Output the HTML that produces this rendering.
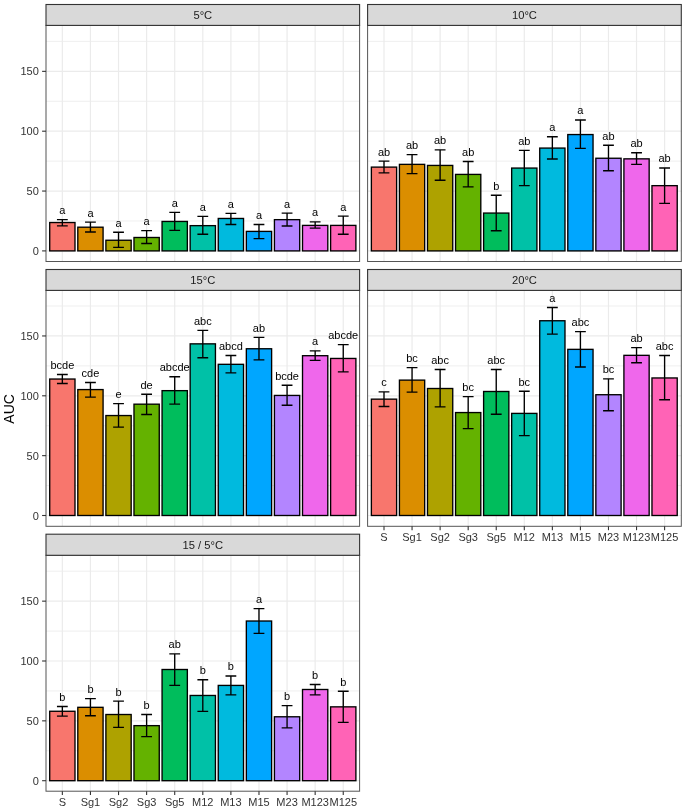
<!DOCTYPE html>
<html><head><meta charset="utf-8"><title>AUC bar chart</title>
<style>
html,body{margin:0;padding:0;background:#fff;}
body{width:685px;height:811px;overflow:hidden;}
svg{display:block;font-family:'Liberation Sans',sans-serif;will-change:transform;}
</style></head>
<body>
<svg width="685" height="811" viewBox="0 0 685 811" style="font-family:'Liberation Sans',sans-serif">
<rect width="685" height="811" fill="#fff"/>
<rect x="46" y="25.4" width="313.6" height="236.1" fill="#fff"/>
<line x1="46" x2="359.6" y1="220.97" y2="220.97" stroke="#EBEBEB" stroke-width="0.8"/>
<line x1="46" x2="359.6" y1="161.12" y2="161.12" stroke="#EBEBEB" stroke-width="0.8"/>
<line x1="46" x2="359.6" y1="101.28" y2="101.28" stroke="#EBEBEB" stroke-width="0.8"/>
<line x1="46" x2="359.6" y1="41.42" y2="41.42" stroke="#EBEBEB" stroke-width="0.8"/>
<line x1="46" x2="359.6" y1="250.9" y2="250.9" stroke="#EBEBEB" stroke-width="1.2"/>
<line x1="46" x2="359.6" y1="191.05" y2="191.05" stroke="#EBEBEB" stroke-width="1.2"/>
<line x1="46" x2="359.6" y1="131.2" y2="131.2" stroke="#EBEBEB" stroke-width="1.2"/>
<line x1="46" x2="359.6" y1="71.35" y2="71.35" stroke="#EBEBEB" stroke-width="1.2"/>
<line x1="62.35" x2="62.35" y1="25.4" y2="261.5" stroke="#EBEBEB" stroke-width="1.2"/>
<line x1="90.44" x2="90.44" y1="25.4" y2="261.5" stroke="#EBEBEB" stroke-width="1.2"/>
<line x1="118.53" x2="118.53" y1="25.4" y2="261.5" stroke="#EBEBEB" stroke-width="1.2"/>
<line x1="146.62" x2="146.62" y1="25.4" y2="261.5" stroke="#EBEBEB" stroke-width="1.2"/>
<line x1="174.71" x2="174.71" y1="25.4" y2="261.5" stroke="#EBEBEB" stroke-width="1.2"/>
<line x1="202.8" x2="202.8" y1="25.4" y2="261.5" stroke="#EBEBEB" stroke-width="1.2"/>
<line x1="230.89" x2="230.89" y1="25.4" y2="261.5" stroke="#EBEBEB" stroke-width="1.2"/>
<line x1="258.98" x2="258.98" y1="25.4" y2="261.5" stroke="#EBEBEB" stroke-width="1.2"/>
<line x1="287.07" x2="287.07" y1="25.4" y2="261.5" stroke="#EBEBEB" stroke-width="1.2"/>
<line x1="315.16" x2="315.16" y1="25.4" y2="261.5" stroke="#EBEBEB" stroke-width="1.2"/>
<line x1="343.25" x2="343.25" y1="25.4" y2="261.5" stroke="#EBEBEB" stroke-width="1.2"/>
<rect x="49.71" y="222.53" width="25.28" height="28.37" fill="#F8766D" stroke="#000" stroke-width="1.35"/>
<rect x="77.8" y="227.2" width="25.28" height="23.7" fill="#DB8E00" stroke="#000" stroke-width="1.35"/>
<rect x="105.89" y="240.25" width="25.28" height="10.65" fill="#AEA200" stroke="#000" stroke-width="1.35"/>
<rect x="133.98" y="237.49" width="25.28" height="13.41" fill="#64B200" stroke="#000" stroke-width="1.35"/>
<rect x="162.07" y="221.45" width="25.28" height="29.45" fill="#00BD5C" stroke="#000" stroke-width="1.35"/>
<rect x="190.16" y="225.64" width="25.28" height="25.26" fill="#00C1A7" stroke="#000" stroke-width="1.35"/>
<rect x="218.25" y="218.46" width="25.28" height="32.44" fill="#00BADE" stroke="#000" stroke-width="1.35"/>
<rect x="246.34" y="231.39" width="25.28" height="19.51" fill="#00A6FF" stroke="#000" stroke-width="1.35"/>
<rect x="274.43" y="219.66" width="25.28" height="31.24" fill="#B385FF" stroke="#000" stroke-width="1.35"/>
<rect x="302.52" y="225.4" width="25.28" height="25.5" fill="#EF67EB" stroke="#000" stroke-width="1.35"/>
<rect x="330.61" y="225.4" width="25.28" height="25.5" fill="#FF63B6" stroke="#000" stroke-width="1.35"/>
<path d="M56.95 219.66H67.75M62.35 219.66V225.88M56.95 225.88H67.75" stroke="#000" stroke-width="1.35" fill="none"/>
<path d="M85.04 222.17H95.84M90.44 222.17V231.99M85.04 231.99H95.84" stroke="#000" stroke-width="1.35" fill="none"/>
<path d="M113.13 232.23H123.93M118.53 232.23V247.43M113.13 247.43H123.93" stroke="#000" stroke-width="1.35" fill="none"/>
<path d="M141.22 230.55H152.02M146.62 230.55V243.48M141.22 243.48H152.02" stroke="#000" stroke-width="1.35" fill="none"/>
<path d="M169.31 212.36H180.11M174.71 212.36V230.43M169.31 230.43H180.11" stroke="#000" stroke-width="1.35" fill="none"/>
<path d="M197.4 216.43H208.2M202.8 216.43V234.26M197.4 234.26H208.2" stroke="#000" stroke-width="1.35" fill="none"/>
<path d="M225.49 213.43H236.29M230.89 213.43V224.45M225.49 224.45H236.29" stroke="#000" stroke-width="1.35" fill="none"/>
<path d="M253.58 224.45H264.38M258.98 224.45V238.69M253.58 238.69H264.38" stroke="#000" stroke-width="1.35" fill="none"/>
<path d="M281.67 213.07H292.47M287.07 213.07V226M281.67 226H292.47" stroke="#000" stroke-width="1.35" fill="none"/>
<path d="M309.76 221.81H320.56M315.16 221.81V228.16M309.76 228.16H320.56" stroke="#000" stroke-width="1.35" fill="none"/>
<path d="M337.85 216.19H348.65M343.25 216.19V234.26M337.85 234.26H348.65" stroke="#000" stroke-width="1.35" fill="none"/>
<text x="62.35" y="214.16" text-anchor="middle" font-size="11" fill="#000">a</text>
<text x="90.44" y="216.67" text-anchor="middle" font-size="11" fill="#000">a</text>
<text x="118.53" y="226.73" text-anchor="middle" font-size="11" fill="#000">a</text>
<text x="146.62" y="225.05" text-anchor="middle" font-size="11" fill="#000">a</text>
<text x="174.71" y="206.86" text-anchor="middle" font-size="11" fill="#000">a</text>
<text x="202.8" y="210.93" text-anchor="middle" font-size="11" fill="#000">a</text>
<text x="230.89" y="207.93" text-anchor="middle" font-size="11" fill="#000">a</text>
<text x="258.98" y="218.95" text-anchor="middle" font-size="11" fill="#000">a</text>
<text x="287.07" y="207.57" text-anchor="middle" font-size="11" fill="#000">a</text>
<text x="315.16" y="216.31" text-anchor="middle" font-size="11" fill="#000">a</text>
<text x="343.25" y="210.69" text-anchor="middle" font-size="11" fill="#000">a</text>
<rect x="46" y="25.4" width="313.6" height="236.1" fill="none" stroke="#555" stroke-width="1.0"/>
<rect x="46" y="4.5" width="313.6" height="20.9" fill="#D9D9D9" stroke="#333333" stroke-width="1.1"/>
<text x="202.8" y="19.1" text-anchor="middle" font-size="11.2" fill="#1A1A1A">5°C</text>
<line x1="42.1" x2="46" y1="250.9" y2="250.9" stroke="#333333" stroke-width="1.1"/>
<text x="38.8" y="254.9" text-anchor="end" font-size="11" fill="#333333">0</text>
<line x1="42.1" x2="46" y1="191.05" y2="191.05" stroke="#333333" stroke-width="1.1"/>
<text x="38.8" y="195.05" text-anchor="end" font-size="11" fill="#333333">50</text>
<line x1="42.1" x2="46" y1="131.2" y2="131.2" stroke="#333333" stroke-width="1.1"/>
<text x="38.8" y="135.2" text-anchor="end" font-size="11" fill="#333333">100</text>
<line x1="42.1" x2="46" y1="71.35" y2="71.35" stroke="#333333" stroke-width="1.1"/>
<text x="38.8" y="75.35" text-anchor="end" font-size="11" fill="#333333">150</text>
<rect x="367.6" y="25.4" width="313.7" height="236.1" fill="#fff"/>
<line x1="367.6" x2="681.3" y1="220.97" y2="220.97" stroke="#EBEBEB" stroke-width="0.8"/>
<line x1="367.6" x2="681.3" y1="161.12" y2="161.12" stroke="#EBEBEB" stroke-width="0.8"/>
<line x1="367.6" x2="681.3" y1="101.28" y2="101.28" stroke="#EBEBEB" stroke-width="0.8"/>
<line x1="367.6" x2="681.3" y1="41.42" y2="41.42" stroke="#EBEBEB" stroke-width="0.8"/>
<line x1="367.6" x2="681.3" y1="250.9" y2="250.9" stroke="#EBEBEB" stroke-width="1.2"/>
<line x1="367.6" x2="681.3" y1="191.05" y2="191.05" stroke="#EBEBEB" stroke-width="1.2"/>
<line x1="367.6" x2="681.3" y1="131.2" y2="131.2" stroke="#EBEBEB" stroke-width="1.2"/>
<line x1="367.6" x2="681.3" y1="71.35" y2="71.35" stroke="#EBEBEB" stroke-width="1.2"/>
<line x1="384" x2="384" y1="25.4" y2="261.5" stroke="#EBEBEB" stroke-width="1.2"/>
<line x1="412.06" x2="412.06" y1="25.4" y2="261.5" stroke="#EBEBEB" stroke-width="1.2"/>
<line x1="440.12" x2="440.12" y1="25.4" y2="261.5" stroke="#EBEBEB" stroke-width="1.2"/>
<line x1="468.18" x2="468.18" y1="25.4" y2="261.5" stroke="#EBEBEB" stroke-width="1.2"/>
<line x1="496.24" x2="496.24" y1="25.4" y2="261.5" stroke="#EBEBEB" stroke-width="1.2"/>
<line x1="524.3" x2="524.3" y1="25.4" y2="261.5" stroke="#EBEBEB" stroke-width="1.2"/>
<line x1="552.36" x2="552.36" y1="25.4" y2="261.5" stroke="#EBEBEB" stroke-width="1.2"/>
<line x1="580.42" x2="580.42" y1="25.4" y2="261.5" stroke="#EBEBEB" stroke-width="1.2"/>
<line x1="608.48" x2="608.48" y1="25.4" y2="261.5" stroke="#EBEBEB" stroke-width="1.2"/>
<line x1="636.54" x2="636.54" y1="25.4" y2="261.5" stroke="#EBEBEB" stroke-width="1.2"/>
<line x1="664.6" x2="664.6" y1="25.4" y2="261.5" stroke="#EBEBEB" stroke-width="1.2"/>
<rect x="371.37" y="167.11" width="25.25" height="83.79" fill="#F8766D" stroke="#000" stroke-width="1.35"/>
<rect x="399.43" y="164.36" width="25.25" height="86.54" fill="#DB8E00" stroke="#000" stroke-width="1.35"/>
<rect x="427.49" y="165.43" width="25.25" height="85.47" fill="#AEA200" stroke="#000" stroke-width="1.35"/>
<rect x="455.55" y="174.41" width="25.25" height="76.49" fill="#64B200" stroke="#000" stroke-width="1.35"/>
<rect x="483.61" y="213.07" width="25.25" height="37.83" fill="#00BD5C" stroke="#000" stroke-width="1.35"/>
<rect x="511.67" y="168.07" width="25.25" height="82.83" fill="#00C1A7" stroke="#000" stroke-width="1.35"/>
<rect x="539.73" y="148.08" width="25.25" height="102.82" fill="#00BADE" stroke="#000" stroke-width="1.35"/>
<rect x="567.79" y="134.55" width="25.25" height="116.35" fill="#00A6FF" stroke="#000" stroke-width="1.35"/>
<rect x="595.85" y="158.25" width="25.25" height="92.65" fill="#B385FF" stroke="#000" stroke-width="1.35"/>
<rect x="623.91" y="158.85" width="25.25" height="92.05" fill="#EF67EB" stroke="#000" stroke-width="1.35"/>
<rect x="651.97" y="185.66" width="25.25" height="65.24" fill="#FF63B6" stroke="#000" stroke-width="1.35"/>
<path d="M378.6 161.12H389.4M384 161.12V172.86M378.6 172.86H389.4" stroke="#000" stroke-width="1.35" fill="none"/>
<path d="M406.66 154.66H417.46M412.06 154.66V173.69M406.66 173.69H417.46" stroke="#000" stroke-width="1.35" fill="none"/>
<path d="M434.72 149.87H445.52M440.12 149.87V180.28M434.72 180.28H445.52" stroke="#000" stroke-width="1.35" fill="none"/>
<path d="M462.78 161.48H473.58M468.18 161.48V186.86M462.78 186.86H473.58" stroke="#000" stroke-width="1.35" fill="none"/>
<path d="M490.84 195.24H501.64M496.24 195.24V230.79M490.84 230.79H501.64" stroke="#000" stroke-width="1.35" fill="none"/>
<path d="M518.9 150.35H529.7M524.3 150.35V185.66M518.9 185.66H529.7" stroke="#000" stroke-width="1.35" fill="none"/>
<path d="M546.96 136.71H557.76M552.36 136.71V158.97M546.96 158.97H557.76" stroke="#000" stroke-width="1.35" fill="none"/>
<path d="M575.02 119.95H585.82M580.42 119.95V148.44M575.02 148.44H585.82" stroke="#000" stroke-width="1.35" fill="none"/>
<path d="M603.08 145.2H613.88M608.48 145.2V170.7M603.08 170.7H613.88" stroke="#000" stroke-width="1.35" fill="none"/>
<path d="M631.14 152.75H641.94M636.54 152.75V164.36M631.14 164.36H641.94" stroke="#000" stroke-width="1.35" fill="none"/>
<path d="M659.2 167.95H670M664.6 167.95V203.38M659.2 203.38H670" stroke="#000" stroke-width="1.35" fill="none"/>
<text x="384" y="155.62" text-anchor="middle" font-size="11" fill="#000">ab</text>
<text x="412.06" y="149.16" text-anchor="middle" font-size="11" fill="#000">ab</text>
<text x="440.12" y="144.37" text-anchor="middle" font-size="11" fill="#000">ab</text>
<text x="468.18" y="155.98" text-anchor="middle" font-size="11" fill="#000">ab</text>
<text x="496.24" y="189.74" text-anchor="middle" font-size="11" fill="#000">b</text>
<text x="524.3" y="144.85" text-anchor="middle" font-size="11" fill="#000">ab</text>
<text x="552.36" y="131.21" text-anchor="middle" font-size="11" fill="#000">a</text>
<text x="580.42" y="114.45" text-anchor="middle" font-size="11" fill="#000">a</text>
<text x="608.48" y="139.7" text-anchor="middle" font-size="11" fill="#000">ab</text>
<text x="636.54" y="147.25" text-anchor="middle" font-size="11" fill="#000">ab</text>
<text x="664.6" y="162.45" text-anchor="middle" font-size="11" fill="#000">ab</text>
<rect x="367.6" y="25.4" width="313.7" height="236.1" fill="none" stroke="#555" stroke-width="1.0"/>
<rect x="367.6" y="4.5" width="313.7" height="20.9" fill="#D9D9D9" stroke="#333333" stroke-width="1.1"/>
<text x="524.45" y="19.1" text-anchor="middle" font-size="11.2" fill="#1A1A1A">10°C</text>
<rect x="46" y="290.4" width="313.6" height="235.9" fill="#fff"/>
<line x1="46" x2="359.6" y1="485.57" y2="485.57" stroke="#EBEBEB" stroke-width="0.8"/>
<line x1="46" x2="359.6" y1="425.73" y2="425.73" stroke="#EBEBEB" stroke-width="0.8"/>
<line x1="46" x2="359.6" y1="365.88" y2="365.88" stroke="#EBEBEB" stroke-width="0.8"/>
<line x1="46" x2="359.6" y1="306.02" y2="306.02" stroke="#EBEBEB" stroke-width="0.8"/>
<line x1="46" x2="359.6" y1="515.5" y2="515.5" stroke="#EBEBEB" stroke-width="1.2"/>
<line x1="46" x2="359.6" y1="455.65" y2="455.65" stroke="#EBEBEB" stroke-width="1.2"/>
<line x1="46" x2="359.6" y1="395.8" y2="395.8" stroke="#EBEBEB" stroke-width="1.2"/>
<line x1="46" x2="359.6" y1="335.95" y2="335.95" stroke="#EBEBEB" stroke-width="1.2"/>
<line x1="62.35" x2="62.35" y1="290.4" y2="526.3" stroke="#EBEBEB" stroke-width="1.2"/>
<line x1="90.44" x2="90.44" y1="290.4" y2="526.3" stroke="#EBEBEB" stroke-width="1.2"/>
<line x1="118.53" x2="118.53" y1="290.4" y2="526.3" stroke="#EBEBEB" stroke-width="1.2"/>
<line x1="146.62" x2="146.62" y1="290.4" y2="526.3" stroke="#EBEBEB" stroke-width="1.2"/>
<line x1="174.71" x2="174.71" y1="290.4" y2="526.3" stroke="#EBEBEB" stroke-width="1.2"/>
<line x1="202.8" x2="202.8" y1="290.4" y2="526.3" stroke="#EBEBEB" stroke-width="1.2"/>
<line x1="230.89" x2="230.89" y1="290.4" y2="526.3" stroke="#EBEBEB" stroke-width="1.2"/>
<line x1="258.98" x2="258.98" y1="290.4" y2="526.3" stroke="#EBEBEB" stroke-width="1.2"/>
<line x1="287.07" x2="287.07" y1="290.4" y2="526.3" stroke="#EBEBEB" stroke-width="1.2"/>
<line x1="315.16" x2="315.16" y1="290.4" y2="526.3" stroke="#EBEBEB" stroke-width="1.2"/>
<line x1="343.25" x2="343.25" y1="290.4" y2="526.3" stroke="#EBEBEB" stroke-width="1.2"/>
<rect x="49.71" y="379.04" width="25.28" height="136.46" fill="#F8766D" stroke="#000" stroke-width="1.35"/>
<rect x="77.8" y="389.58" width="25.28" height="125.92" fill="#DB8E00" stroke="#000" stroke-width="1.35"/>
<rect x="105.89" y="415.55" width="25.28" height="99.95" fill="#AEA200" stroke="#000" stroke-width="1.35"/>
<rect x="133.98" y="404.18" width="25.28" height="111.32" fill="#64B200" stroke="#000" stroke-width="1.35"/>
<rect x="162.07" y="390.65" width="25.28" height="124.85" fill="#00BD5C" stroke="#000" stroke-width="1.35"/>
<rect x="190.16" y="343.85" width="25.28" height="171.65" fill="#00C1A7" stroke="#000" stroke-width="1.35"/>
<rect x="218.25" y="364.32" width="25.28" height="151.18" fill="#00BADE" stroke="#000" stroke-width="1.35"/>
<rect x="246.34" y="348.76" width="25.28" height="166.74" fill="#00A6FF" stroke="#000" stroke-width="1.35"/>
<rect x="274.43" y="395.44" width="25.28" height="120.06" fill="#B385FF" stroke="#000" stroke-width="1.35"/>
<rect x="302.52" y="355.7" width="25.28" height="159.8" fill="#EF67EB" stroke="#000" stroke-width="1.35"/>
<rect x="330.61" y="358.45" width="25.28" height="157.05" fill="#FF63B6" stroke="#000" stroke-width="1.35"/>
<path d="M56.95 374.49H67.75M62.35 374.49V383.47M56.95 383.47H67.75" stroke="#000" stroke-width="1.35" fill="none"/>
<path d="M85.04 382.51H95.84M90.44 382.51V397.12M85.04 397.12H95.84" stroke="#000" stroke-width="1.35" fill="none"/>
<path d="M113.13 403.58H123.93M118.53 403.58V427.16M113.13 427.16H123.93" stroke="#000" stroke-width="1.35" fill="none"/>
<path d="M141.22 394.24H152.02M146.62 394.24V414.47M141.22 414.47H152.02" stroke="#000" stroke-width="1.35" fill="none"/>
<path d="M169.31 376.77H180.11M174.71 376.77V404.18M169.31 404.18H180.11" stroke="#000" stroke-width="1.35" fill="none"/>
<path d="M197.4 330.44H208.2M202.8 330.44V357.74M197.4 357.74H208.2" stroke="#000" stroke-width="1.35" fill="none"/>
<path d="M225.49 355.46H236.29M230.89 355.46V372.94M225.49 372.94H236.29" stroke="#000" stroke-width="1.35" fill="none"/>
<path d="M253.58 337.39H264.38M258.98 337.39V359.89M253.58 359.89H264.38" stroke="#000" stroke-width="1.35" fill="none"/>
<path d="M281.67 385.27H292.47M287.07 385.27V405.26M281.67 405.26H292.47" stroke="#000" stroke-width="1.35" fill="none"/>
<path d="M309.76 350.91H320.56M315.16 350.91V360.37M309.76 360.37H320.56" stroke="#000" stroke-width="1.35" fill="none"/>
<path d="M337.85 344.57H348.65M343.25 344.57V371.86M337.85 371.86H348.65" stroke="#000" stroke-width="1.35" fill="none"/>
<text x="62.35" y="368.99" text-anchor="middle" font-size="11" fill="#000">bcde</text>
<text x="90.44" y="377.01" text-anchor="middle" font-size="11" fill="#000">cde</text>
<text x="118.53" y="398.08" text-anchor="middle" font-size="11" fill="#000">e</text>
<text x="146.62" y="388.74" text-anchor="middle" font-size="11" fill="#000">de</text>
<text x="174.71" y="371.27" text-anchor="middle" font-size="11" fill="#000">abcde</text>
<text x="202.8" y="324.94" text-anchor="middle" font-size="11" fill="#000">abc</text>
<text x="230.89" y="349.96" text-anchor="middle" font-size="11" fill="#000">abcd</text>
<text x="258.98" y="331.89" text-anchor="middle" font-size="11" fill="#000">ab</text>
<text x="287.07" y="379.77" text-anchor="middle" font-size="11" fill="#000">bcde</text>
<text x="315.16" y="345.41" text-anchor="middle" font-size="11" fill="#000">a</text>
<text x="343.25" y="339.07" text-anchor="middle" font-size="11" fill="#000">abcde</text>
<rect x="46" y="290.4" width="313.6" height="235.9" fill="none" stroke="#555" stroke-width="1.0"/>
<rect x="46" y="269.5" width="313.6" height="20.9" fill="#D9D9D9" stroke="#333333" stroke-width="1.1"/>
<text x="202.8" y="284.1" text-anchor="middle" font-size="11.2" fill="#1A1A1A">15°C</text>
<line x1="42.1" x2="46" y1="515.5" y2="515.5" stroke="#333333" stroke-width="1.1"/>
<text x="38.8" y="519.5" text-anchor="end" font-size="11" fill="#333333">0</text>
<line x1="42.1" x2="46" y1="455.65" y2="455.65" stroke="#333333" stroke-width="1.1"/>
<text x="38.8" y="459.65" text-anchor="end" font-size="11" fill="#333333">50</text>
<line x1="42.1" x2="46" y1="395.8" y2="395.8" stroke="#333333" stroke-width="1.1"/>
<text x="38.8" y="399.8" text-anchor="end" font-size="11" fill="#333333">100</text>
<line x1="42.1" x2="46" y1="335.95" y2="335.95" stroke="#333333" stroke-width="1.1"/>
<text x="38.8" y="339.95" text-anchor="end" font-size="11" fill="#333333">150</text>
<rect x="367.6" y="290.4" width="313.7" height="235.9" fill="#fff"/>
<line x1="367.6" x2="681.3" y1="485.57" y2="485.57" stroke="#EBEBEB" stroke-width="0.8"/>
<line x1="367.6" x2="681.3" y1="425.73" y2="425.73" stroke="#EBEBEB" stroke-width="0.8"/>
<line x1="367.6" x2="681.3" y1="365.88" y2="365.88" stroke="#EBEBEB" stroke-width="0.8"/>
<line x1="367.6" x2="681.3" y1="306.02" y2="306.02" stroke="#EBEBEB" stroke-width="0.8"/>
<line x1="367.6" x2="681.3" y1="515.5" y2="515.5" stroke="#EBEBEB" stroke-width="1.2"/>
<line x1="367.6" x2="681.3" y1="455.65" y2="455.65" stroke="#EBEBEB" stroke-width="1.2"/>
<line x1="367.6" x2="681.3" y1="395.8" y2="395.8" stroke="#EBEBEB" stroke-width="1.2"/>
<line x1="367.6" x2="681.3" y1="335.95" y2="335.95" stroke="#EBEBEB" stroke-width="1.2"/>
<line x1="384" x2="384" y1="290.4" y2="526.3" stroke="#EBEBEB" stroke-width="1.2"/>
<line x1="412.06" x2="412.06" y1="290.4" y2="526.3" stroke="#EBEBEB" stroke-width="1.2"/>
<line x1="440.12" x2="440.12" y1="290.4" y2="526.3" stroke="#EBEBEB" stroke-width="1.2"/>
<line x1="468.18" x2="468.18" y1="290.4" y2="526.3" stroke="#EBEBEB" stroke-width="1.2"/>
<line x1="496.24" x2="496.24" y1="290.4" y2="526.3" stroke="#EBEBEB" stroke-width="1.2"/>
<line x1="524.3" x2="524.3" y1="290.4" y2="526.3" stroke="#EBEBEB" stroke-width="1.2"/>
<line x1="552.36" x2="552.36" y1="290.4" y2="526.3" stroke="#EBEBEB" stroke-width="1.2"/>
<line x1="580.42" x2="580.42" y1="290.4" y2="526.3" stroke="#EBEBEB" stroke-width="1.2"/>
<line x1="608.48" x2="608.48" y1="290.4" y2="526.3" stroke="#EBEBEB" stroke-width="1.2"/>
<line x1="636.54" x2="636.54" y1="290.4" y2="526.3" stroke="#EBEBEB" stroke-width="1.2"/>
<line x1="664.6" x2="664.6" y1="290.4" y2="526.3" stroke="#EBEBEB" stroke-width="1.2"/>
<rect x="371.37" y="399.15" width="25.25" height="116.35" fill="#F8766D" stroke="#000" stroke-width="1.35"/>
<rect x="399.43" y="380.12" width="25.25" height="135.38" fill="#DB8E00" stroke="#000" stroke-width="1.35"/>
<rect x="427.49" y="388.5" width="25.25" height="127" fill="#AEA200" stroke="#000" stroke-width="1.35"/>
<rect x="455.55" y="412.56" width="25.25" height="102.94" fill="#64B200" stroke="#000" stroke-width="1.35"/>
<rect x="483.61" y="391.49" width="25.25" height="124.01" fill="#00BD5C" stroke="#000" stroke-width="1.35"/>
<rect x="511.67" y="413.4" width="25.25" height="102.1" fill="#00C1A7" stroke="#000" stroke-width="1.35"/>
<rect x="539.73" y="320.75" width="25.25" height="194.75" fill="#00BADE" stroke="#000" stroke-width="1.35"/>
<rect x="567.79" y="349.36" width="25.25" height="166.14" fill="#00A6FF" stroke="#000" stroke-width="1.35"/>
<rect x="595.85" y="394.72" width="25.25" height="120.78" fill="#B385FF" stroke="#000" stroke-width="1.35"/>
<rect x="623.91" y="355.34" width="25.25" height="160.16" fill="#EF67EB" stroke="#000" stroke-width="1.35"/>
<rect x="651.97" y="377.96" width="25.25" height="137.54" fill="#FF63B6" stroke="#000" stroke-width="1.35"/>
<path d="M378.6 391.85H389.4M384 391.85V406.45M378.6 406.45H389.4" stroke="#000" stroke-width="1.35" fill="none"/>
<path d="M406.66 367.67H417.46M412.06 367.67V392.09M406.66 392.09H417.46" stroke="#000" stroke-width="1.35" fill="none"/>
<path d="M434.72 369.47H445.52M440.12 369.47V406.93M434.72 406.93H445.52" stroke="#000" stroke-width="1.35" fill="none"/>
<path d="M462.78 396.64H473.58M468.18 396.64V428.6M462.78 428.6H473.58" stroke="#000" stroke-width="1.35" fill="none"/>
<path d="M490.84 369.47H501.64M496.24 369.47V414.23M490.84 414.23H501.64" stroke="#000" stroke-width="1.35" fill="none"/>
<path d="M518.9 391.25H529.7M524.3 391.25V435.66M518.9 435.66H529.7" stroke="#000" stroke-width="1.35" fill="none"/>
<path d="M546.96 307.46H557.76M552.36 307.46V334.15M546.96 334.15H557.76" stroke="#000" stroke-width="1.35" fill="none"/>
<path d="M575.02 331.64H585.82M580.42 331.64V366.95M575.02 366.95H585.82" stroke="#000" stroke-width="1.35" fill="none"/>
<path d="M603.08 378.8H613.88M608.48 378.8V410.76M603.08 410.76H613.88" stroke="#000" stroke-width="1.35" fill="none"/>
<path d="M631.14 347.68H641.94M636.54 347.68V362.76M631.14 362.76H641.94" stroke="#000" stroke-width="1.35" fill="none"/>
<path d="M659.2 355.46H670M664.6 355.46V399.75M659.2 399.75H670" stroke="#000" stroke-width="1.35" fill="none"/>
<text x="384" y="386.35" text-anchor="middle" font-size="11" fill="#000">c</text>
<text x="412.06" y="362.17" text-anchor="middle" font-size="11" fill="#000">bc</text>
<text x="440.12" y="363.97" text-anchor="middle" font-size="11" fill="#000">abc</text>
<text x="468.18" y="391.14" text-anchor="middle" font-size="11" fill="#000">bc</text>
<text x="496.24" y="363.97" text-anchor="middle" font-size="11" fill="#000">abc</text>
<text x="524.3" y="385.75" text-anchor="middle" font-size="11" fill="#000">bc</text>
<text x="552.36" y="301.96" text-anchor="middle" font-size="11" fill="#000">a</text>
<text x="580.42" y="326.14" text-anchor="middle" font-size="11" fill="#000">abc</text>
<text x="608.48" y="373.3" text-anchor="middle" font-size="11" fill="#000">bc</text>
<text x="636.54" y="342.18" text-anchor="middle" font-size="11" fill="#000">ab</text>
<text x="664.6" y="349.96" text-anchor="middle" font-size="11" fill="#000">abc</text>
<rect x="367.6" y="290.4" width="313.7" height="235.9" fill="none" stroke="#555" stroke-width="1.0"/>
<rect x="367.6" y="269.5" width="313.7" height="20.9" fill="#D9D9D9" stroke="#333333" stroke-width="1.1"/>
<text x="524.45" y="284.1" text-anchor="middle" font-size="11.2" fill="#1A1A1A">20°C</text>
<line x1="384" x2="384" y1="526.3" y2="530.2" stroke="#333333" stroke-width="1.1"/>
<text x="384" y="540.7" text-anchor="middle" font-size="11" fill="#333333">S</text>
<line x1="412.06" x2="412.06" y1="526.3" y2="530.2" stroke="#333333" stroke-width="1.1"/>
<text x="412.06" y="540.7" text-anchor="middle" font-size="11" fill="#333333">Sg1</text>
<line x1="440.12" x2="440.12" y1="526.3" y2="530.2" stroke="#333333" stroke-width="1.1"/>
<text x="440.12" y="540.7" text-anchor="middle" font-size="11" fill="#333333">Sg2</text>
<line x1="468.18" x2="468.18" y1="526.3" y2="530.2" stroke="#333333" stroke-width="1.1"/>
<text x="468.18" y="540.7" text-anchor="middle" font-size="11" fill="#333333">Sg3</text>
<line x1="496.24" x2="496.24" y1="526.3" y2="530.2" stroke="#333333" stroke-width="1.1"/>
<text x="496.24" y="540.7" text-anchor="middle" font-size="11" fill="#333333">Sg5</text>
<line x1="524.3" x2="524.3" y1="526.3" y2="530.2" stroke="#333333" stroke-width="1.1"/>
<text x="524.3" y="540.7" text-anchor="middle" font-size="11" fill="#333333">M12</text>
<line x1="552.36" x2="552.36" y1="526.3" y2="530.2" stroke="#333333" stroke-width="1.1"/>
<text x="552.36" y="540.7" text-anchor="middle" font-size="11" fill="#333333">M13</text>
<line x1="580.42" x2="580.42" y1="526.3" y2="530.2" stroke="#333333" stroke-width="1.1"/>
<text x="580.42" y="540.7" text-anchor="middle" font-size="11" fill="#333333">M15</text>
<line x1="608.48" x2="608.48" y1="526.3" y2="530.2" stroke="#333333" stroke-width="1.1"/>
<text x="608.48" y="540.7" text-anchor="middle" font-size="11" fill="#333333">M23</text>
<line x1="636.54" x2="636.54" y1="526.3" y2="530.2" stroke="#333333" stroke-width="1.1"/>
<text x="636.54" y="540.7" text-anchor="middle" font-size="11" fill="#333333">M123</text>
<line x1="664.6" x2="664.6" y1="526.3" y2="530.2" stroke="#333333" stroke-width="1.1"/>
<text x="664.6" y="540.7" text-anchor="middle" font-size="11" fill="#333333">M125</text>
<rect x="46" y="555.3" width="313.6" height="235.9" fill="#fff"/>
<line x1="46" x2="359.6" y1="750.78" y2="750.78" stroke="#EBEBEB" stroke-width="0.8"/>
<line x1="46" x2="359.6" y1="690.93" y2="690.93" stroke="#EBEBEB" stroke-width="0.8"/>
<line x1="46" x2="359.6" y1="631.08" y2="631.08" stroke="#EBEBEB" stroke-width="0.8"/>
<line x1="46" x2="359.6" y1="571.23" y2="571.23" stroke="#EBEBEB" stroke-width="0.8"/>
<line x1="46" x2="359.6" y1="780.7" y2="780.7" stroke="#EBEBEB" stroke-width="1.2"/>
<line x1="46" x2="359.6" y1="720.85" y2="720.85" stroke="#EBEBEB" stroke-width="1.2"/>
<line x1="46" x2="359.6" y1="661" y2="661" stroke="#EBEBEB" stroke-width="1.2"/>
<line x1="46" x2="359.6" y1="601.15" y2="601.15" stroke="#EBEBEB" stroke-width="1.2"/>
<line x1="62.35" x2="62.35" y1="555.3" y2="791.2" stroke="#EBEBEB" stroke-width="1.2"/>
<line x1="90.44" x2="90.44" y1="555.3" y2="791.2" stroke="#EBEBEB" stroke-width="1.2"/>
<line x1="118.53" x2="118.53" y1="555.3" y2="791.2" stroke="#EBEBEB" stroke-width="1.2"/>
<line x1="146.62" x2="146.62" y1="555.3" y2="791.2" stroke="#EBEBEB" stroke-width="1.2"/>
<line x1="174.71" x2="174.71" y1="555.3" y2="791.2" stroke="#EBEBEB" stroke-width="1.2"/>
<line x1="202.8" x2="202.8" y1="555.3" y2="791.2" stroke="#EBEBEB" stroke-width="1.2"/>
<line x1="230.89" x2="230.89" y1="555.3" y2="791.2" stroke="#EBEBEB" stroke-width="1.2"/>
<line x1="258.98" x2="258.98" y1="555.3" y2="791.2" stroke="#EBEBEB" stroke-width="1.2"/>
<line x1="287.07" x2="287.07" y1="555.3" y2="791.2" stroke="#EBEBEB" stroke-width="1.2"/>
<line x1="315.16" x2="315.16" y1="555.3" y2="791.2" stroke="#EBEBEB" stroke-width="1.2"/>
<line x1="343.25" x2="343.25" y1="555.3" y2="791.2" stroke="#EBEBEB" stroke-width="1.2"/>
<rect x="49.71" y="711.27" width="25.28" height="69.43" fill="#F8766D" stroke="#000" stroke-width="1.35"/>
<rect x="77.8" y="707.32" width="25.28" height="73.38" fill="#DB8E00" stroke="#000" stroke-width="1.35"/>
<rect x="105.89" y="714.51" width="25.28" height="66.19" fill="#AEA200" stroke="#000" stroke-width="1.35"/>
<rect x="133.98" y="725.64" width="25.28" height="55.06" fill="#64B200" stroke="#000" stroke-width="1.35"/>
<rect x="162.07" y="669.5" width="25.28" height="111.2" fill="#00BD5C" stroke="#000" stroke-width="1.35"/>
<rect x="190.16" y="695.47" width="25.28" height="85.23" fill="#00C1A7" stroke="#000" stroke-width="1.35"/>
<rect x="218.25" y="685.42" width="25.28" height="95.28" fill="#00BADE" stroke="#000" stroke-width="1.35"/>
<rect x="246.34" y="621.02" width="25.28" height="159.68" fill="#00A6FF" stroke="#000" stroke-width="1.35"/>
<rect x="274.43" y="716.78" width="25.28" height="63.92" fill="#B385FF" stroke="#000" stroke-width="1.35"/>
<rect x="302.52" y="689.49" width="25.28" height="91.21" fill="#EF67EB" stroke="#000" stroke-width="1.35"/>
<rect x="330.61" y="706.85" width="25.28" height="73.85" fill="#FF63B6" stroke="#000" stroke-width="1.35"/>
<path d="M56.95 706.49H67.75M62.35 706.49V716.06M56.95 716.06H67.75" stroke="#000" stroke-width="1.35" fill="none"/>
<path d="M85.04 698.59H95.84M90.44 698.59V715.7M85.04 715.7H95.84" stroke="#000" stroke-width="1.35" fill="none"/>
<path d="M113.13 701.1H123.93M118.53 701.1V727.31M113.13 727.31H123.93" stroke="#000" stroke-width="1.35" fill="none"/>
<path d="M141.22 714.51H152.02M146.62 714.51V736.65M141.22 736.65H152.02" stroke="#000" stroke-width="1.35" fill="none"/>
<path d="M169.31 653.82H180.11M174.71 653.82V685.42M169.31 685.42H180.11" stroke="#000" stroke-width="1.35" fill="none"/>
<path d="M197.4 679.79H208.2M202.8 679.79V711.39M197.4 711.39H208.2" stroke="#000" stroke-width="1.35" fill="none"/>
<path d="M225.49 675.96H236.29M230.89 675.96V694.88M225.49 694.88H236.29" stroke="#000" stroke-width="1.35" fill="none"/>
<path d="M253.58 608.57H264.38M258.98 608.57V633.35M253.58 633.35H264.38" stroke="#000" stroke-width="1.35" fill="none"/>
<path d="M281.67 705.65H292.47M287.07 705.65V727.91M281.67 727.91H292.47" stroke="#000" stroke-width="1.35" fill="none"/>
<path d="M309.76 684.46H320.56M315.16 684.46V694.88M309.76 694.88H320.56" stroke="#000" stroke-width="1.35" fill="none"/>
<path d="M337.85 691.28H348.65M343.25 691.28V722.41M337.85 722.41H348.65" stroke="#000" stroke-width="1.35" fill="none"/>
<text x="62.35" y="700.99" text-anchor="middle" font-size="11" fill="#000">b</text>
<text x="90.44" y="693.09" text-anchor="middle" font-size="11" fill="#000">b</text>
<text x="118.53" y="695.6" text-anchor="middle" font-size="11" fill="#000">b</text>
<text x="146.62" y="709.01" text-anchor="middle" font-size="11" fill="#000">b</text>
<text x="174.71" y="648.32" text-anchor="middle" font-size="11" fill="#000">ab</text>
<text x="202.8" y="674.29" text-anchor="middle" font-size="11" fill="#000">b</text>
<text x="230.89" y="670.46" text-anchor="middle" font-size="11" fill="#000">b</text>
<text x="258.98" y="603.07" text-anchor="middle" font-size="11" fill="#000">a</text>
<text x="287.07" y="700.15" text-anchor="middle" font-size="11" fill="#000">b</text>
<text x="315.16" y="678.96" text-anchor="middle" font-size="11" fill="#000">b</text>
<text x="343.25" y="685.78" text-anchor="middle" font-size="11" fill="#000">b</text>
<rect x="46" y="555.3" width="313.6" height="235.9" fill="none" stroke="#555" stroke-width="1.0"/>
<rect x="46" y="534.2" width="313.6" height="21.1" fill="#D9D9D9" stroke="#333333" stroke-width="1.1"/>
<text x="202.8" y="548.8" text-anchor="middle" font-size="11.2" fill="#1A1A1A">15 / 5°C</text>
<line x1="42.1" x2="46" y1="780.7" y2="780.7" stroke="#333333" stroke-width="1.1"/>
<text x="38.8" y="784.7" text-anchor="end" font-size="11" fill="#333333">0</text>
<line x1="42.1" x2="46" y1="720.85" y2="720.85" stroke="#333333" stroke-width="1.1"/>
<text x="38.8" y="724.85" text-anchor="end" font-size="11" fill="#333333">50</text>
<line x1="42.1" x2="46" y1="661" y2="661" stroke="#333333" stroke-width="1.1"/>
<text x="38.8" y="665" text-anchor="end" font-size="11" fill="#333333">100</text>
<line x1="42.1" x2="46" y1="601.15" y2="601.15" stroke="#333333" stroke-width="1.1"/>
<text x="38.8" y="605.15" text-anchor="end" font-size="11" fill="#333333">150</text>
<line x1="62.35" x2="62.35" y1="791.2" y2="795.1" stroke="#333333" stroke-width="1.1"/>
<text x="62.35" y="805.6" text-anchor="middle" font-size="11" fill="#333333">S</text>
<line x1="90.44" x2="90.44" y1="791.2" y2="795.1" stroke="#333333" stroke-width="1.1"/>
<text x="90.44" y="805.6" text-anchor="middle" font-size="11" fill="#333333">Sg1</text>
<line x1="118.53" x2="118.53" y1="791.2" y2="795.1" stroke="#333333" stroke-width="1.1"/>
<text x="118.53" y="805.6" text-anchor="middle" font-size="11" fill="#333333">Sg2</text>
<line x1="146.62" x2="146.62" y1="791.2" y2="795.1" stroke="#333333" stroke-width="1.1"/>
<text x="146.62" y="805.6" text-anchor="middle" font-size="11" fill="#333333">Sg3</text>
<line x1="174.71" x2="174.71" y1="791.2" y2="795.1" stroke="#333333" stroke-width="1.1"/>
<text x="174.71" y="805.6" text-anchor="middle" font-size="11" fill="#333333">Sg5</text>
<line x1="202.8" x2="202.8" y1="791.2" y2="795.1" stroke="#333333" stroke-width="1.1"/>
<text x="202.8" y="805.6" text-anchor="middle" font-size="11" fill="#333333">M12</text>
<line x1="230.89" x2="230.89" y1="791.2" y2="795.1" stroke="#333333" stroke-width="1.1"/>
<text x="230.89" y="805.6" text-anchor="middle" font-size="11" fill="#333333">M13</text>
<line x1="258.98" x2="258.98" y1="791.2" y2="795.1" stroke="#333333" stroke-width="1.1"/>
<text x="258.98" y="805.6" text-anchor="middle" font-size="11" fill="#333333">M15</text>
<line x1="287.07" x2="287.07" y1="791.2" y2="795.1" stroke="#333333" stroke-width="1.1"/>
<text x="287.07" y="805.6" text-anchor="middle" font-size="11" fill="#333333">M23</text>
<line x1="315.16" x2="315.16" y1="791.2" y2="795.1" stroke="#333333" stroke-width="1.1"/>
<text x="315.16" y="805.6" text-anchor="middle" font-size="11" fill="#333333">M123</text>
<line x1="343.25" x2="343.25" y1="791.2" y2="795.1" stroke="#333333" stroke-width="1.1"/>
<text x="343.25" y="805.6" text-anchor="middle" font-size="11" fill="#333333">M125</text>
<text transform="translate(14.2 408.9) rotate(-90)" text-anchor="middle" font-size="14" fill="#000">AUC</text>
</svg>
</body></html>
